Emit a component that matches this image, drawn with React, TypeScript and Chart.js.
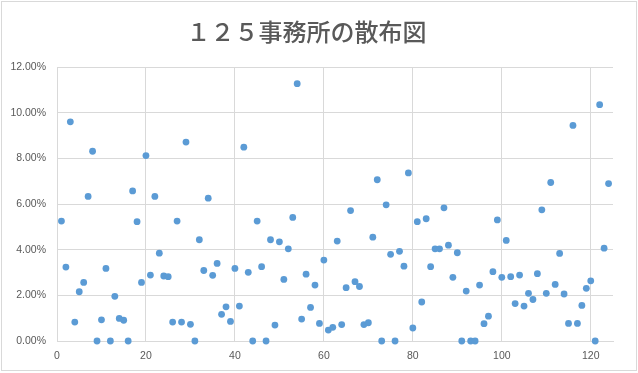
import React, { useEffect, useRef } from 'react';
import { Chart, registerables } from 'chart.js';

Chart.register(...registerables);

const TITLE = '１２５事務所の散布図';

// office numbers 1..124
const officeNumbers: number[] = [
  1, 2, 3, 4, 5, 6, 7, 8, 9, 10, 11, 12, 13, 14, 15, 16, 17, 18, 19, 20,
  21, 22, 23, 24, 25, 26, 27, 28, 29, 30, 31, 32, 33, 34, 35, 36, 37, 38, 39, 40,
  41, 42, 43, 44, 45, 46, 47, 48, 49, 50, 51, 52, 53, 54, 55, 56, 57, 58, 59, 60,
  61, 62, 63, 64, 65, 66, 67, 68, 69, 70, 71, 72, 73, 74, 75, 76, 77, 78, 79, 80,
  81, 82, 83, 84, 85, 86, 87, 88, 89, 90, 91, 92, 93, 94, 95, 96, 97, 98, 99, 100,
  101, 102, 103, 104, 105, 106, 107, 108, 109, 110, 111, 112, 113, 114, 115, 116, 117, 118, 119, 120,
  121, 122, 123, 124,
];

// rate values in percent
const rates: number[] = [
  5.26, 3.24, 9.61, 0.83, 2.16, 2.57, 6.34, 8.32, 0, 0.93,
  3.18, 0, 1.96, 0.99, 0.91, 0, 6.58, 5.23, 2.57, 8.13,
  2.89, 6.34, 3.85, 2.85, 2.82, 0.83, 5.26, 0.83, 8.72, 0.73,
  0, 4.44, 3.09, 6.26, 2.88, 3.40, 1.17, 1.50, 0.86, 3.18,
  1.53, 8.50, 3.01, 0, 5.26, 3.26, 0, 4.44, 0.70, 4.35,
  2.70, 4.04, 5.42, 11.28, 0.96, 2.93, 1.47, 2.45, 0.77, 3.55,
  0.48, 0.60, 4.38, 0.72, 2.34, 5.72, 2.60, 2.39, 0.72, 0.80,
  4.55, 7.07, 0, 5.97, 3.80, 0, 3.93, 3.28, 7.37, 0.57,
  5.23, 1.71, 5.36, 3.26, 4.04, 4.04, 5.84, 4.20, 2.79, 3.87,
  0, 2.19, 0, 0, 2.45, 0.76, 1.09, 3.04, 5.31, 2.79,
  4.41, 2.82, 1.64, 2.89, 1.53, 2.09, 1.82, 2.95, 5.75, 2.09,
  6.95, 2.48, 3.84, 2.06, 0.77, 9.45, 0.77, 1.56, 2.31, 2.64,
  0, 10.36, 4.07, 6.90,
];

const X_MIN = 0;
const X_MAX = 125;
const X_STEP = 20;
const Y_MIN = 0;
const Y_MAX = 12;
const Y_STEP = 2;

const frameBorder = {
  id: 'frameBorder',
  beforeDraw(chart: any) {
    const ctx = chart.ctx;
    ctx.save();
    ctx.fillStyle = '#ffffff';
    ctx.fillRect(0, 0, chart.width, chart.height);
    ctx.strokeStyle = '#d9d9d9';
    ctx.lineWidth = 1;
    ctx.strokeRect(1.5, 1.5, 635, 369);
    ctx.restore();
  },
};

export default function App() {
  const canvasRef = useRef<HTMLCanvasElement | null>(null);

  useEffect(() => {
    document.body.style.margin = '0';
    const canvas = canvasRef.current;
    if (!canvas) return;
    const points = officeNumbers.map((x, i) => ({ x, y: rates[i] }));
    const tickFont = { family: "'Liberation Sans', Arial, sans-serif", size: 10.5 };
    const chart = new Chart(canvas, {
      type: 'scatter',
      data: {
        datasets: [
          {
            label: 'rate',
            data: points,
            backgroundColor: '#5B9BD5',
            borderColor: '#5B9BD5',
            borderWidth: 0,
            pointRadius: 3.4,
            pointHoverRadius: 3.4,
            clip: false,
          } as any,
        ],
      },
      options: {
        animation: false,
        responsive: false,
        maintainAspectRatio: false,
        devicePixelRatio: 1,
        layout: { padding: { left: 0, right: 25, top: 0, bottom: 0 } },
        plugins: {
          legend: { display: false },
          tooltip: { enabled: false },
          title: {
            display: true,
            text: TITLE,
            color: '#595959',
            font: { family: "'Noto Sans CJK JP', sans-serif", size: 24, weight: '500' as any, lineHeight: 1.2 },
            padding: { top: 17, bottom: 21.5 },
          },
        },
        scales: {
          x: {
            type: 'linear',
            min: X_MIN,
            max: X_MAX,
            grid: { color: '#d9d9d9', lineWidth: 1, drawTicks: false },
            border: { display: true, color: '#d9d9d9' },
            ticks: {
              stepSize: X_STEP,
              includeBounds: false,
              color: '#595959',
              font: tickFont,
              padding: 9,
              maxRotation: 0,
            },
            afterFit: (scale: any) => {
              scale.height = 32;
            },
          },
          y: {
            type: 'linear',
            min: Y_MIN,
            max: Y_MAX,
            grid: { color: '#d9d9d9', lineWidth: 1, drawTicks: false },
            border: { display: false },
            ticks: {
              stepSize: Y_STEP,
              color: '#595959',
              font: tickFont,
              padding: 11,
              callback: (v: any) => Number(v).toFixed(2) + '%',
            },
            afterFit: (scale: any) => {
              scale.width = 57;
            },
          },
        },
      },
      plugins: [frameBorder],
    });
    return () => chart.destroy();
  }, []);

  return (
    <div style={{ position: 'absolute', left: 0, top: 0, width: 638, height: 373 }}>
      <canvas ref={canvasRef} width={638} height={373} style={{ width: 638, height: 373, display: 'block' }} />
    </div>
  );
}
